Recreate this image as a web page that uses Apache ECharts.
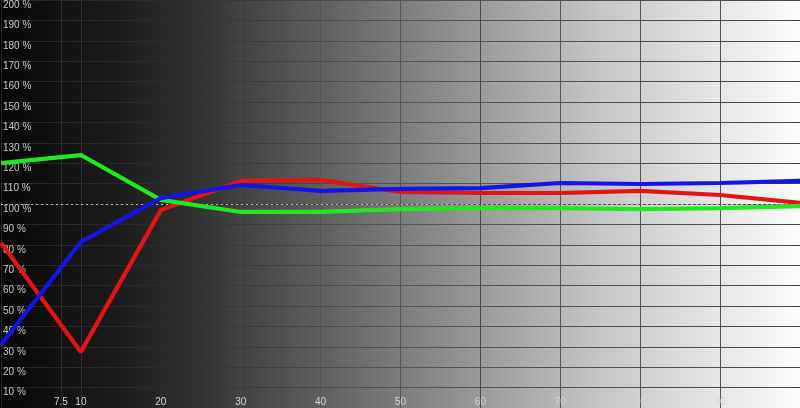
<!DOCTYPE html>
<html>
<head>
<meta charset="utf-8">
<script src="https://cdn.jsdelivr.net/npm/echarts@6/dist/echarts.min.js"></script>
<style>
html,body{margin:0;padding:0;background:#000;}
#chart{width:800px;height:408px;}
</style>
</head>
<body>
<div id="chart"></div>
<script>
// ---- data ----
var stimulus = [0, 10, 20, 30, 40, 50, 60, 70, 80, 90, 100];
var redValues   = [81, 27.5, 97, 111.3, 111.8, 105.9, 105.4, 105.4, 106.4, 104.4, 100.5];
var greenValues = [120, 124, 102, 96.1, 96.1, 97.5, 98, 98, 97.5, 98, 99];
var blueValues  = [31, 81.4, 102.9, 109.3, 106.4, 107.4, 107.8, 110.3, 109.8, 110.3, 111.3];
var xTickLabels = [7.5, 10, 20, 30, 40, 50, 60, 70, 80, 90];
var extraGridX = [7.5];
var referenceLevel = 100;

function pairs(xs, ys){ return xs.map(function(x,i){ return [x, ys[i]]; }); }

var chart = echarts.init(document.getElementById('chart'));
var bgGrad = new echarts.graphic.LinearGradient(0,0,1,0,[
  {offset:0, color:'#070707'},
  {offset:0.15, color:'#1c1c1c'},
  {offset:0.25, color:'#333333'},
  {offset:0.5, color:'#7c7c7c'},
  {offset:0.75, color:'#c6c6c6'},
  {offset:1, color:'#fcfcfc'}
]);
var hLineGrad = {
  type:'linear', x:0, y:0, x2:800, y2:0, global:true,
  colorStops:[
    {offset:0, color:'#262626'},
    {offset:0.2, color:'#2c2c2c'},
    {offset:0.35, color:'#404040'},
    {offset:0.5, color:'#575757'},
    {offset:1, color:'#464646'}
  ]
};
var vLineColors = ['#262626','#303030','#2f2f2f','#474747','#545454','#555555','#4a4a4a','#555555','#555555','#505050','#474747'];

function dataSeries(name, values, color){
  return {
    name:name, type:'line', data:pairs(stimulus, values),
    symbol:'none', z:5,
    lineStyle:{color:color, width:4.2},
    itemStyle:{color:color},
    animation:false
  };
}

chart.setOption({
  animation:false,
  grid:{left:0, right:0, top:0, bottom:0, show:true, backgroundColor:bgGrad, borderWidth:0},
  xAxis:{
    type:'value', min:0, max:100, interval:10,
    axisLine:{show:false}, axisTick:{show:false},
    splitLine:{show:true, lineStyle:{color:vLineColors, width:1}},
    axisLabel:{
      inside:true, margin:1, customValues:xTickLabels,
      color:'#d6d6d6', fontSize:10, fontFamily:'Liberation Sans, Arial, sans-serif',
      verticalAlign:'bottom',
      formatter:function(v){ return String(v); }
    }
  },
  yAxis:{
    type:'value', min:0, max:200, interval:10,
    axisLine:{show:false}, axisTick:{show:false},
    splitLine:{show:true, lineStyle:{color:hLineGrad, width:1}},
    axisLabel:{
      inside:true, margin:2, color:'#c8c8c8', fontSize:10,
      fontFamily:'Liberation Sans, Arial, sans-serif',
      verticalAlign:'top', align:'left',
      formatter:function(v){ return v===0 ? '' : v + ' %'; }
    }
  },
  series:[
    {
      type:'line', data:[], z:2, silent:true,
      markLine:{
        silent:true, symbol:['none','none'], animation:false,
        label:{show:false},
        data:[
          {xAxis:extraGridX[0], lineStyle:{color:'#2e2e2e', type:'solid', width:1}},
          {yAxis:referenceLevel, lineStyle:{color:'#b8b8b8', type:[2,3], width:1}}
        ]
      }
    },
    dataSeries('Red', redValues, '#e31414'),
    dataSeries('Green', greenValues, '#22e822'),
    dataSeries('Blue', blueValues, '#1414e6')
  ]
});
</script>
</body>
</html>
